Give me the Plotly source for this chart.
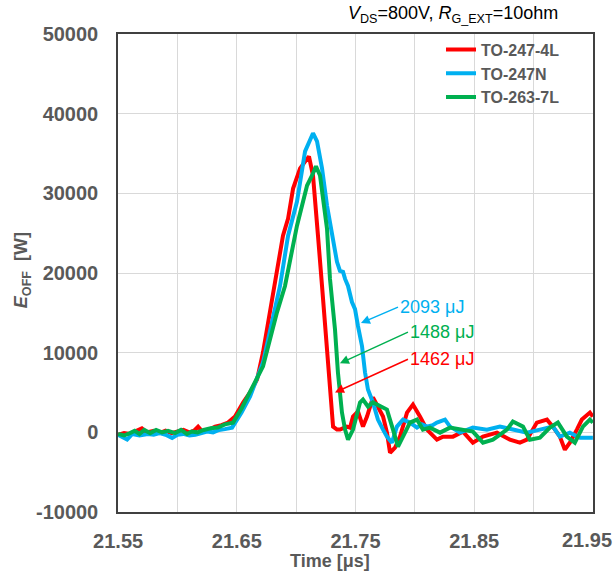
import plotly.graph_objects as go

# ---------------- data ----------------
series_names = ["TO-247-4L", "TO-247N", "TO-263-7L"]
series_colors = ["#FF0000", "#00B0F0", "#00B050"]

t_red = [21.550, 21.555, 21.560, 21.565, 21.570, 21.574, 21.580, 21.585, 21.590, 21.595,
         21.600, 21.605, 21.610, 21.614, 21.6174, 21.621, 21.626, 21.6317, 21.637, 21.6426,
         21.6485, 21.6553, 21.6612, 21.6671, 21.6721, 21.6780, 21.6822, 21.6889, 21.6932, 21.6974,
         21.7033, 21.7075, 21.7108, 21.7142, 21.7167, 21.7184, 21.7218, 21.7260, 21.7302, 21.7311,
         21.7344, 21.7369, 21.7428, 21.7454, 21.7479, 21.7521, 21.7563, 21.7597, 21.7647, 21.7689,
         21.7732, 21.7765, 21.7791, 21.7833, 21.7875, 21.7934, 21.7984, 21.8043, 21.8102, 21.8186,
         21.8237, 21.8321, 21.8405, 21.8489, 21.8574, 21.8692, 21.8801, 21.8885, 21.8944, 21.9028,
         21.9113, 21.9163, 21.9222, 21.9264, 21.9306, 21.9365, 21.9407, 21.9475, 21.950]
p_red = [-300, -100, -200, 100, 500, 0, 200, -100, 200, -100,
         100, 300, 0, 200, 700, 100, 300, 720, 900, 1220,
         1980, 3750, 5000, 6650, 10050, 15090, 18370, 24680, 26820, 30600,
         33130, 34010, 34640, 32240, 26820, 24680, 18370, 10810, 2480, 720,
         340, 340, 720, 590, 1980, 2610, 720, 1980, 4380, 3240,
         1980, -40, -2560, -1930, -540, 2480, 3490, 1980, 340, -920,
         -540, -540, 90, -1300, -540, -40, -920, -1300, -920, 1220,
         1600, 720, -540, -2180, -1300, 340, 1600, 2480, 1980]

t_blue = [21.550, 21.5576, 21.562, 21.568, 21.575, 21.580, 21.585, 21.590, 21.5955, 21.600,
          21.605, 21.610, 21.615, 21.620, 21.625, 21.630, 21.635, 21.640, 21.6460, 21.6540,
          21.6612, 21.6721, 21.6805, 21.6864, 21.6932, 21.7007, 21.7075, 21.7117, 21.7142, 21.7176,
          21.7218, 21.7260, 21.7302, 21.7344, 21.7369, 21.7395, 21.7412, 21.7437, 21.7470, 21.7496,
          21.7521, 21.7555, 21.7580, 21.7605, 21.7647, 21.7689, 21.7732, 21.7765, 21.7807, 21.7849,
          21.7900, 21.7959, 21.8018, 21.8060, 21.8102, 21.8150, 21.8186, 21.8254, 21.8296, 21.8380,
          21.8489, 21.8607, 21.8717, 21.8826, 21.8944, 21.9054, 21.9163, 21.9222, 21.9306, 21.9391,
          21.950]
p_blue = [-300, -900, -200, -400, -200, -300, -100, -300, -700, -300,
          -200, -400, -300, -100, 100, 0, 300, 400, 590, 2500,
          4500, 8790, 14210, 18370, 24680, 28970, 35270, 36910, 37540, 36530,
          33130, 28460, 24680, 21400, 20260, 20140, 19260, 18370, 16360, 15470,
          13330, 10810, 7530, 5380, 3750, 1600, 340, -540, -1300, 720,
          1600, 1220, 590, 1000, 720, 900, 1220, 1600, 720, -40,
          590, 340, 720, 340, -40, 340, 720, -540, -40, -670,
          -670]

t_green = [21.550, 21.555, 21.560, 21.564, 21.568, 21.572, 21.577, 21.582, 21.587, 21.592,
           21.598, 21.603, 21.608, 21.612, 21.617, 21.622, 21.628, 21.634, 21.640, 21.6468,
           21.6540, 21.6612, 21.6721, 21.6839, 21.6906, 21.7007, 21.7092, 21.7134, 21.7167, 21.7201,
           21.7226, 21.7260, 21.7285, 21.7327, 21.7352, 21.7386, 21.7412, 21.7437, 21.7479, 21.7538,
           21.7563, 21.7605, 21.7647, 21.7706, 21.7765, 21.7816, 21.7858, 21.7900, 21.7959, 21.8018,
           21.8068, 21.8127, 21.8212, 21.8296, 21.8380, 21.8489, 21.8574, 21.8658, 21.8776, 21.8826,
           21.8911, 21.8969, 21.9054, 21.9138, 21.9205, 21.9281, 21.9348, 21.9416, 21.9475, 21.950]
p_green = [-200, -400, -100, 200, -200, 300, -100, 300, 0, 200,
           -100, 300, -200, 100, 0, 300, 500, 600, 1000, 1220,
           3000, 5010, 8280, 15090, 18370, 25940, 30980, 32240, 33380, 32240,
           29720, 25560, 19260, 12950, 7530, 2480, 340, -920, 340, 3750,
           4120, 3240, 3750, 3240, 2860, 340, -1800, -540, 1220, 1600,
           340, 590, -40, 590, 340, 90, -1300, -920, 340, 1350,
           720, -920, -670, 590, 1220, -540, -1300, 720, 1600, 1220]

energy_labels = ["2093 μJ", "1488 μJ", "1462 μJ"]
energy_colors = ["#00B0F0", "#00B050", "#FF0000"]

x_tickvals = [21.55, 21.65, 21.75, 21.85, 21.95]
x_ticktext = ["21.55", "21.65", "21.75", "21.85", "21.95"]
y_tickvals = [-10000, 0, 10000, 20000, 30000, 40000, 50000]
y_ticktext = ["-10000", "0", "10000", "20000", "30000", "40000", "50000"]

# ---------------- figure ----------------
fig = go.Figure()
for name, col, tx, py in zip(series_names, series_colors,
                             [t_red, t_blue, t_green], [p_red, p_blue, p_green]):
    fig.add_trace(go.Scatter(x=tx, y=py, mode="lines", name=name,
                             line=dict(color=col, width=4)))

FONT = "Liberation Sans"
GRAY = "#595959"
GRID = "#d9d9d9"
TICKFONT = dict(family=FONT, size=20, color=GRAY, weight="bold")

fig.update_layout(
    width=614, height=571, autosize=False,
    margin=dict(l=118, r=21, t=34, b=59, autoexpand=False),
    paper_bgcolor="white", plot_bgcolor="white",
    font=dict(family=FONT, color=GRAY),
    showlegend=True,
    legend=dict(x=0.68, y=1.003, xanchor="left", yanchor="top",
                bgcolor="rgba(255,255,255,0)",
                font=dict(family=FONT, size=16, color=GRAY, weight="bold"),
                tracegroupgap=0, itemwidth=30),
)
# the last x label is drawn separately, nudged left to stay inside the page (as in the reference)
fig.update_xaxes(range=[21.5499, 21.9501], tickvals=x_tickvals[:-1], ticktext=x_ticktext[:-1],
                 showgrid=True, gridcolor=GRID, gridwidth=1, automargin=False,
                 minor=dict(tick0=21.55, dtick=0.05, showgrid=True, gridcolor=GRID, gridwidth=1),
                 showline=True, linecolor="#404040", linewidth=1.5, mirror=True,
                 zeroline=False, ticks="", ticklabelstandoff=10,
                 tickfont=TICKFONT)
fig.add_annotation(xref="x", yref="paper", x=x_tickvals[-1], y=-0.0586, xshift=-6,
                   xanchor="center", yanchor="middle", text=x_ticktext[-1],
                   showarrow=False, font=TICKFONT)
fig.update_yaxes(range=[-10000, 50000], tickvals=y_tickvals, ticktext=y_ticktext,
                 showgrid=True, gridcolor=GRID, gridwidth=1, automargin=False,
                 showline=True, linecolor="#404040", linewidth=1.5, mirror=True,
                 zeroline=False, ticks="", ticklabelstandoff=14,
                 tickfont=TICKFONT)

# condition text
fig.add_annotation(xref="paper", yref="paper", x=0.93, y=1.04, xanchor="right", yanchor="middle",
                   text="<i>V</i><sub>DS</sub>=800V, <i>R</i><sub>G_EXT</sub>=10ohm",
                   showarrow=False, font=dict(family=FONT, size=18, color="black"))
# axis titles
fig.add_annotation(xref="paper", yref="paper", x=-0.202, y=0.506, xanchor="center", yanchor="middle",
                   text="<b><i>E</i><sub>OFF</sub>  [W]</b>", textangle=-90,
                   showarrow=False, font=dict(family=FONT, size=18, color=GRAY))
fig.add_annotation(xref="paper", yref="paper", x=0.446, y=-0.1025, xanchor="center", yanchor="middle",
                   text="<b>Time [μs]</b>",
                   showarrow=False, font=dict(family=FONT, size=18, color=GRAY))

# energy labels with arrows (text box anchored at arrow tail)
arrow_heads = [(21.7546, 13710), (21.7369, 8660), (21.7327, 5010)]
arrow_tails = [(21.7858, 15720), (21.7942, 12570), (21.7942, 9170)]
for lab, col, hd, tl in zip(energy_labels, energy_colors, arrow_heads, arrow_tails):
    fig.add_annotation(x=hd[0], y=hd[1], ax=tl[0], ay=tl[1], axref="x", ayref="y",
                       xref="x", yref="y", text=lab, showarrow=True,
                       xanchor="left", yanchor="middle",
                       arrowhead=2, arrowsize=1.2, arrowwidth=1.5, arrowcolor=col,
                       font=dict(family=FONT, size=18, color=col))

fig.write_html("out.html")
